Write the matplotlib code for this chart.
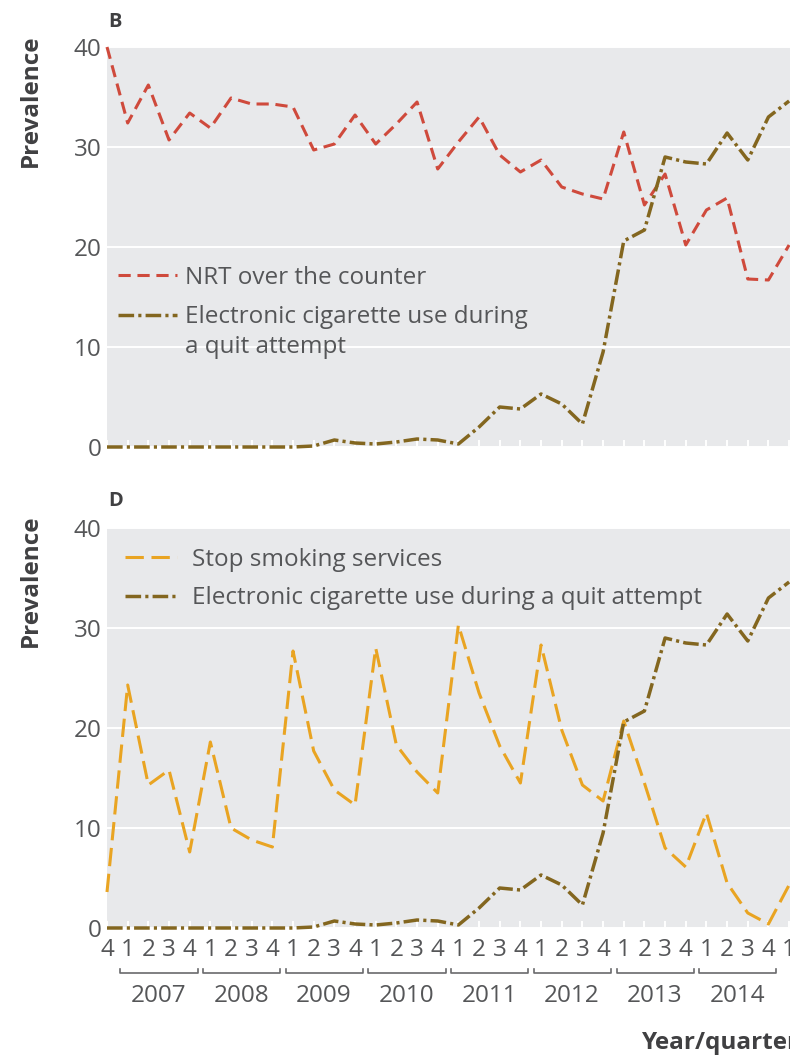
import matplotlib
matplotlib.use("Agg")
import matplotlib.pyplot as plt
import matplotlib.transforms as mtransforms

plt.rcParams['font.family'] = ['Open Sans', 'DejaVu Sans']

# ---------------- data ----------------
quarter_labels = ["4"] + ["1", "2", "3", "4"] * 8 + ["1"]   # 2006 Q4 ... 2015 Q1
years = [2007, 2008, 2009, 2010, 2011, 2012, 2013, 2014]

nrt_otc = [40.0, 32.4, 36.2, 30.7, 33.4, 31.9, 34.9, 34.3, 34.3, 34.0,
           29.7, 30.3, 33.2, 30.3, 32.3, 34.5, 27.8, 30.5, 33.0, 29.2,
           27.5, 28.7, 26.0, 25.3, 24.8, 31.5, 24.2, 27.3, 20.2, 23.7,
           24.9, 16.8, 16.7, 20.2]

ecig = [0.0, 0.0, 0.0, 0.0, 0.0, 0.0, 0.0, 0.0, 0.0, 0.0,
        0.1, 0.7, 0.4, 0.3, 0.5, 0.8, 0.7, 0.3, 2.0, 4.0,
        3.8, 5.3, 4.3, 2.3, 9.5, 20.6, 21.7, 29.0, 28.5, 28.3,
        31.4, 28.7, 33.0, 34.6]

stop_smoking = [3.6, 24.3, 14.3, 15.8, 7.6, 18.6, 10.0, 8.8, 8.1, 27.7,
                17.7, 13.8, 12.3, 28.0, 18.3, 15.6, 13.5, 30.3, 23.5, 18.2,
                14.5, 28.3, 19.8, 14.3, 12.7, 20.7, 14.5, 8.0, 6.1, 11.5,
                4.5, 1.5, 0.4, 4.3]

x = list(range(len(quarter_labels)))

# ---------------- style ----------------
BG = "#e8e9eb"
TXT = "#555658"
DARK = "#404042"
C_NRT = "#cf4a3c"
C_ECIG = "#83661f"
C_STOP = "#e9a422"
FS = 17.5

W, H = 790, 1060
fig = plt.figure(figsize=(W / 100, H / 100), dpi=100)


def rect(left, top, width, height):
    return [left / W, 1 - (top + height) / H, width / W, height / H]


step = 20.67
axB = fig.add_axes(rect(107, 47, step * 34, 400))
axD = fig.add_axes(rect(107, 528, step * 34, 400))
AXW = step * 34


def style(ax, show_xlabels):
    ax.set_facecolor(BG)
    for s in ax.spines.values():
        s.set_visible(False)
    ax.set_xlim(0, 34)
    ax.set_ylim(0, 40)
    ax.set_yticks([0, 10, 20, 30, 40])
    ax.yaxis.grid(True, color="white", lw=1.4)
    ax.set_axisbelow(True)
    ax.tick_params(axis="y", length=0, pad=4, labelsize=FS, labelcolor=TXT)
    ax.set_xticks(x)
    if show_xlabels:
        ax.set_xticklabels(quarter_labels)
    else:
        ax.set_xticklabels([])
    ax.tick_params(axis="x", direction="in", length=5, width=1.4,
                   color="white", pad=7, labelsize=FS, labelcolor=TXT)


style(axB, False)
style(axD, True)

# ---------------- panel B ----------------
lnB1, = axB.plot(x, nrt_otc, color=C_NRT, lw=2.2, dashes=(4, 2.2),
                 clip_on=False, zorder=3)
lnB2, = axB.plot(x, ecig, color=C_ECIG, lw=2.5, dashes=(4.5, 1.2, 0.9, 1.2),
                 clip_on=False, zorder=4)
axB.legend([lnB1, lnB2],
           ["NRT over the counter", "Electronic cigarette use during"],
           loc="center left", bbox_to_anchor=(11 / AXW, 0.374),
           frameon=False, borderpad=0, borderaxespad=0,
           handlelength=2.43, handletextpad=0.33, labelspacing=0.63,
           fontsize=FS, labelcolor=TXT)
axB.text(78 / AXW, 0.25, "a quit attempt", transform=axB.transAxes,
         ha="left", va="center", fontsize=FS, color=TXT)

# ---------------- panel D ----------------
lnD1, = axD.plot(x, stop_smoking, color=C_STOP, lw=2.2, dashes=(6, 2.5),
                 clip_on=False, zorder=3)
lnD2, = axD.plot(x, ecig, color=C_ECIG, lw=2.5, dashes=(4.5, 1.2, 0.9, 1.2),
                 clip_on=False, zorder=4)
axD.legend([lnD1, lnD2],
           ["Stop smoking services", "Electronic cigarette use during a quit attempt"],
           loc="center left", bbox_to_anchor=(18 / AXW, 0.8725),
           frameon=False, borderpad=0, borderaxespad=0,
           handlelength=2.14, handletextpad=0.6, labelspacing=0.6,
           fontsize=FS, labelcolor=TXT)

# year brackets under panel D
trans = mtransforms.blended_transform_factory(axD.transData, axD.transAxes)
for k, yr in enumerate(years):
    x0 = 1 + 4 * k - 0.35
    x1 = 4 + 4 * k + 0.38
    axD.plot([x0, x0, x1, x1], [-0.1025, -0.1125, -0.1125, -0.1025],
             transform=trans, color="#6a6a6c", lw=1.2, clip_on=False)
    axD.text(2.5 + 4 * k, -0.17, str(yr), transform=trans, ha="center",
             va="center", fontsize=FS, color=TXT)

# ---------------- labels ----------------
for ycen, letter, ylab in [(22, "B", 101), (501, "D", 581)]:
    fig.text(108 / W, 1 - ycen / H, letter, fontsize=14.5, fontweight="bold",
             color=DARK, ha="left", va="center")
    fig.text(31 / W, 1 - ylab / H, "Prevalence", rotation=90, fontsize=FS,
             fontweight="bold", color=DARK, ha="center", va="center")

fig.text(642 / W, 1 - 1043 / H, "Year/quarter", fontsize=FS, fontweight="bold",
         color=DARK, ha="left", va="center")

fig.savefig("out.png", dpi=100, facecolor="white")
